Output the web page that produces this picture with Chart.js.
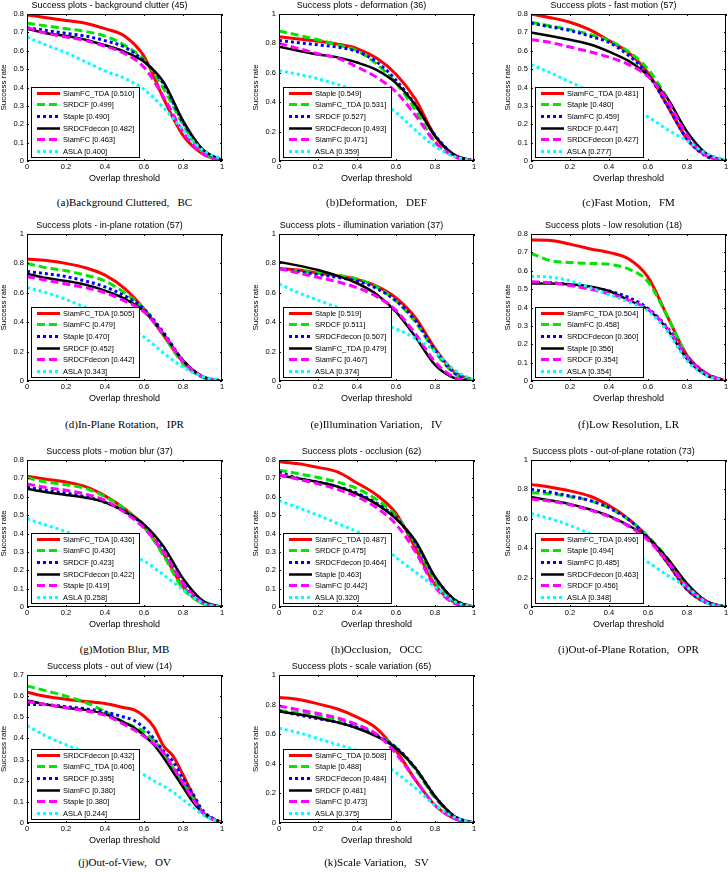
<!DOCTYPE html>
<html>
<head>
<meta charset="utf-8">
<script src="https://cdn.jsdelivr.net/npm/chart.js@4.4.1/dist/chart.umd.min.js"></script>
<style>
  html, body { margin: 0; padding: 0; background: #fff; width: 728px; height: 872px; overflow: hidden; position: relative; }
  canvas { position: absolute; }
  .cap { position: absolute; width: 240px; text-align: center; white-space: pre; font-family: "Liberation Serif", "Times New Roman", serif; font-size: 11px; line-height: 12px; color: #000; }
</style>
</head>
<body>
<script>
// overlap thresholds (x axis)
const thresholds = [0, 0.1, 0.2, 0.3, 0.4, 0.5, 0.6, 0.7, 0.8, 0.9, 1];
const thresholdsOV = [0, 0.1, 0.2, 0.3, 0.4, 0.5, 0.55, 0.6, 0.65, 0.7, 0.75, 0.8, 0.85, 0.9, 1];

// (a) background clutter
const bcNames = ['SiamFC_TDA', 'SRDCF', 'Staple', 'SRDCFdecon', 'SiamFC', 'ASLA'];
const bcScores = ['0.510', '0.499', '0.490', '0.482', '0.463', '0.400'];
const bcValues = [
  [0.795, 0.78, 0.765, 0.75, 0.72, 0.68, 0.57, 0.34, 0.14, 0.04, 0],
  [0.75, 0.735, 0.72, 0.705, 0.68, 0.63, 0.55, 0.395, 0.2, 0.05, 0],
  [0.725, 0.71, 0.695, 0.68, 0.655, 0.62, 0.545, 0.42, 0.21, 0.06, 0.005],
  [0.72, 0.695, 0.68, 0.66, 0.63, 0.595, 0.54, 0.43, 0.22, 0.065, 0.005],
  [0.725, 0.695, 0.675, 0.655, 0.625, 0.585, 0.51, 0.35, 0.16, 0.04, 0],
  [0.675, 0.63, 0.59, 0.54, 0.49, 0.45, 0.39, 0.29, 0.17, 0.06, 0.01]
];

// (b) deformation
const dfNames = ['Staple', 'SiamFC_TDA', 'SRDCF', 'SRDCFdecon', 'SiamFC', 'ASLA'];
const dfScores = ['0.549', '0.531', '0.527', '0.493', '0.471', '0.359'];
const dfValues = [
  [0.845, 0.83, 0.815, 0.795, 0.765, 0.70, 0.59, 0.42, 0.17, 0.04, 0],
  [0.885, 0.855, 0.825, 0.79, 0.75, 0.66, 0.53, 0.345, 0.13, 0.03, 0],
  [0.82, 0.805, 0.79, 0.775, 0.745, 0.675, 0.55, 0.38, 0.175, 0.04, 0],
  [0.777, 0.75, 0.725, 0.705, 0.67, 0.62, 0.53, 0.38, 0.17, 0.04, 0],
  [0.80, 0.765, 0.73, 0.70, 0.64, 0.57, 0.47, 0.31, 0.13, 0.03, 0],
  [0.614, 0.59, 0.56, 0.52, 0.48, 0.42, 0.33, 0.21, 0.10, 0.03, 0]
];

// (c) fast motion
const fmNames = ['SiamFC_TDA', 'Staple', 'SiamFC', 'SRDCF', 'SRDCFdecon', 'ASLA'];
const fmScores = ['0.481', '0.480', '0.459', '0.447', '0.427', '0.277'];
const fmValues = [
  [0.80, 0.78, 0.755, 0.715, 0.655, 0.59, 0.48, 0.30, 0.12, 0.03, 0],
  [0.755, 0.735, 0.715, 0.69, 0.655, 0.595, 0.50, 0.34, 0.15, 0.03, 0],
  [0.75, 0.73, 0.71, 0.68, 0.645, 0.575, 0.47, 0.30, 0.12, 0.025, 0],
  [0.70, 0.68, 0.66, 0.635, 0.595, 0.545, 0.465, 0.34, 0.16, 0.04, 0],
  [0.66, 0.645, 0.62, 0.595, 0.565, 0.525, 0.46, 0.33, 0.14, 0.03, 0],
  [0.525, 0.48, 0.43, 0.38, 0.33, 0.285, 0.24, 0.17, 0.11, 0.04, 0.005]
];

// (d) in-plane rotation
const iprNames = ['SiamFC_TDA', 'SiamFC', 'Staple', 'SRDCF', 'SRDCFdecon', 'ASLA'];
const iprScores = ['0.505', '0.479', '0.470', '0.452', '0.442', '0.343'];
const iprValues = [
  [0.83, 0.82, 0.80, 0.77, 0.72, 0.63, 0.49, 0.31, 0.13, 0.03, 0],
  [0.80, 0.77, 0.75, 0.72, 0.68, 0.60, 0.49, 0.31, 0.12, 0.025, 0],
  [0.745, 0.73, 0.71, 0.68, 0.64, 0.58, 0.49, 0.33, 0.14, 0.03, 0],
  [0.73, 0.70, 0.68, 0.655, 0.615, 0.56, 0.475, 0.32, 0.14, 0.03, 0],
  [0.71, 0.685, 0.66, 0.635, 0.60, 0.545, 0.47, 0.32, 0.135, 0.03, 0],
  [0.636, 0.60, 0.555, 0.50, 0.44, 0.375, 0.30, 0.19, 0.095, 0.03, 0.005]
];

// (e) illumination variation
const ivNames = ['Staple', 'SRDCF', 'SRDCFdecon', 'SiamFC_TDA', 'SiamFC', 'ASLA'];
const ivScores = ['0.519', '0.511', '0.507', '0.479', '0.467', '0.374'];
const ivValues = [
  [0.765, 0.755, 0.735, 0.715, 0.69, 0.645, 0.565, 0.43, 0.22, 0.06, 0.005],
  [0.765, 0.75, 0.735, 0.72, 0.695, 0.64, 0.545, 0.40, 0.20, 0.05, 0],
  [0.765, 0.745, 0.725, 0.705, 0.68, 0.63, 0.545, 0.41, 0.21, 0.055, 0],
  [0.81, 0.785, 0.755, 0.715, 0.665, 0.59, 0.47, 0.30, 0.11, 0.02, 0],
  [0.765, 0.735, 0.705, 0.675, 0.635, 0.575, 0.48, 0.32, 0.13, 0.025, 0],
  [0.66, 0.60, 0.55, 0.50, 0.45, 0.40, 0.355, 0.29, 0.20, 0.075, 0.005]
];

// (f) low resolution
const lrNames = ['SiamFC_TDA', 'SiamFC', 'SRDCFdecon', 'Staple', 'SRDCF', 'ASLA'];
const lrScores = ['0.504', '0.458', '0.360', '0.356', '0.354', '0.354'];
const lrValues = [
  [0.767, 0.765, 0.745, 0.72, 0.70, 0.665, 0.565, 0.35, 0.14, 0.04, 0],
  [0.695, 0.655, 0.645, 0.64, 0.635, 0.61, 0.54, 0.35, 0.14, 0.04, 0],
  [0.537, 0.535, 0.525, 0.51, 0.49, 0.455, 0.395, 0.29, 0.135, 0.04, 0],
  [0.53, 0.53, 0.525, 0.515, 0.49, 0.44, 0.39, 0.28, 0.12, 0.03, 0],
  [0.54, 0.535, 0.52, 0.50, 0.475, 0.44, 0.39, 0.285, 0.13, 0.04, 0],
  [0.57, 0.565, 0.545, 0.51, 0.47, 0.43, 0.38, 0.27, 0.11, 0.03, 0]
];

// (g) motion blur
const mbNames = ['SiamFC_TDA', 'SiamFC', 'SRDCF', 'SRDCFdecon', 'Staple', 'ASLA'];
const mbScores = ['0.436', '0.430', '0.423', '0.422', '0.419', '0.258'];
const mbValues = [
  [0.712, 0.695, 0.68, 0.655, 0.605, 0.535, 0.44, 0.29, 0.11, 0.02, 0],
  [0.703, 0.68, 0.665, 0.645, 0.60, 0.535, 0.435, 0.28, 0.10, 0.02, 0],
  [0.652, 0.635, 0.62, 0.60, 0.57, 0.52, 0.445, 0.32, 0.14, 0.03, 0],
  [0.643, 0.625, 0.61, 0.595, 0.57, 0.52, 0.45, 0.33, 0.155, 0.035, 0],
  [0.67, 0.65, 0.635, 0.615, 0.58, 0.515, 0.43, 0.30, 0.13, 0.025, 0],
  [0.48, 0.445, 0.41, 0.37, 0.33, 0.29, 0.25, 0.175, 0.095, 0.022, 0]
];

// (h) occlusion
const occNames = ['SiamFC_TDA', 'SRDCF', 'SRDCFdecon', 'Staple', 'SiamFC', 'ASLA'];
const occScores = ['0.487', '0.475', '0.464', '0.463', '0.442', '0.320'];
const occValues = [
  [0.79, 0.78, 0.76, 0.735, 0.675, 0.61, 0.51, 0.32, 0.12, 0.025, 0],
  [0.745, 0.725, 0.705, 0.68, 0.645, 0.585, 0.495, 0.345, 0.145, 0.035, 0],
  [0.735, 0.70, 0.68, 0.655, 0.62, 0.565, 0.485, 0.35, 0.16, 0.04, 0],
  [0.715, 0.70, 0.68, 0.655, 0.615, 0.56, 0.48, 0.36, 0.165, 0.04, 0],
  [0.72, 0.695, 0.67, 0.64, 0.60, 0.54, 0.45, 0.30, 0.11, 0.02, 0],
  [0.58, 0.54, 0.50, 0.455, 0.41, 0.36, 0.27, 0.19, 0.11, 0.03, 0]
];

// (i) out-of-plane rotation
const oprNames = ['SiamFC_TDA', 'Staple', 'SiamFC', 'SRDCFdecon', 'SRDCF', 'ASLA'];
const oprScores = ['0.496', '0.494', '0.485', '0.463', '0.456', '0.348'];
const oprValues = [
  [0.834, 0.815, 0.79, 0.755, 0.69, 0.60, 0.475, 0.30, 0.12, 0.03, 0],
  [0.777, 0.77, 0.75, 0.725, 0.675, 0.595, 0.48, 0.33, 0.15, 0.035, 0],
  [0.80, 0.78, 0.755, 0.725, 0.675, 0.595, 0.47, 0.30, 0.12, 0.03, 0],
  [0.748, 0.725, 0.70, 0.665, 0.62, 0.555, 0.47, 0.33, 0.16, 0.04, 0],
  [0.735, 0.72, 0.695, 0.66, 0.615, 0.55, 0.455, 0.31, 0.14, 0.035, 0],
  [0.636, 0.60, 0.555, 0.50, 0.445, 0.38, 0.305, 0.215, 0.135, 0.03, 0]
];

// (j) out of view (uses thresholdsOV)
const ovNames = ['SRDCFdecon', 'SiamFC_TDA', 'SRDCF', 'SiamFC', 'Staple', 'ASLA'];
const ovScores = ['0.432', '0.406', '0.395', '0.380', '0.380', '0.244'];
const ovValues = [
  [0.618, 0.598, 0.585, 0.575, 0.565, 0.545, 0.535, 0.505, 0.455, 0.365, 0.315, 0.228, 0.134, 0.05, 0],
  [0.648, 0.625, 0.60, 0.57, 0.527, 0.475, 0.455, 0.432, 0.39, 0.335, 0.26, 0.19, 0.12, 0.05, 0],
  [0.561, 0.56, 0.55, 0.54, 0.525, 0.50, 0.485, 0.45, 0.40, 0.34, 0.29, 0.21, 0.14, 0.06, 0],
  [0.58, 0.56, 0.545, 0.535, 0.515, 0.475, 0.45, 0.415, 0.37, 0.31, 0.24, 0.17, 0.10, 0.05, 0],
  [0.575, 0.56, 0.545, 0.53, 0.51, 0.465, 0.44, 0.41, 0.375, 0.33, 0.26, 0.19, 0.115, 0.05, 0],
  [0.46, 0.41, 0.37, 0.335, 0.30, 0.265, 0.25, 0.228, 0.20, 0.175, 0.145, 0.11, 0.075, 0.04, 0]
];

// (k) scale variation
const svNames = ['SiamFC_TDA', 'Staple', 'SRDCFdecon', 'SRDCF', 'SiamFC', 'ASLA'];
const svScores = ['0.508', '0.488', '0.484', '0.481', '0.473', '0.375'];
const svValues = [
  [0.848, 0.835, 0.805, 0.77, 0.715, 0.64, 0.49, 0.29, 0.12, 0.03, 0],
  [0.76, 0.745, 0.725, 0.70, 0.66, 0.60, 0.51, 0.36, 0.17, 0.04, 0],
  [0.758, 0.73, 0.705, 0.68, 0.645, 0.59, 0.51, 0.37, 0.18, 0.045, 0],
  [0.753, 0.735, 0.71, 0.68, 0.64, 0.585, 0.505, 0.37, 0.18, 0.045, 0],
  [0.79, 0.765, 0.74, 0.71, 0.665, 0.60, 0.47, 0.29, 0.12, 0.03, 0],
  [0.64, 0.61, 0.57, 0.53, 0.49, 0.43, 0.34, 0.235, 0.12, 0.04, 0]
];

// line style by rank (1st .. 6th)
const lineStyles = [
  { color: '#ff0000', width: 3, dash: [] },
  { color: '#00e600', width: 3, dash: [8, 4] },
  { color: '#0000ff', width: 3, dash: [3, 3] },
  { color: '#000000', width: 2.5, dash: [] },
  { color: '#ff00ff', width: 3, dash: [8, 4] },
  { color: '#00ffff', width: 3, dash: [3, 3] }
];

// page layout
const colLeft = [27, 279, 531];
const rowTop = [14, 234, 460, 675];
const rowHeight = [147, 147, 147, 148];
const capY = [202, 424, 649, 862];
const plotW = 195;

Chart.defaults.font.family = '"Liberation Sans", Arial, sans-serif';
Chart.defaults.color = '#000';

// box, inner ticks and legend inside the axes
const framePlugin = {
  id: 'frame',
  afterDatasetsDraw(chart) {
    const { ctx, chartArea: a } = chart;
    const xs = chart.scales.x, ys = chart.scales.y;
    ctx.save();
    ctx.strokeStyle = '#000';
    ctx.lineWidth = 1;
    ctx.setLineDash([]);
    ctx.beginPath();
    xs.ticks.forEach(t => {
      const px = Math.round(xs.getPixelForValue(t.value)) + 0.5;
      ctx.moveTo(px, a.bottom); ctx.lineTo(px, a.bottom - 2);
      ctx.moveTo(px, a.top); ctx.lineTo(px, a.top + 2);
    });
    ys.ticks.forEach(t => {
      const py = Math.round(ys.getPixelForValue(t.value)) + 0.5;
      ctx.moveTo(a.left, py); ctx.lineTo(a.left + 2, py);
      ctx.moveTo(a.right, py); ctx.lineTo(a.right - 2, py);
    });
    ctx.stroke();
    ctx.strokeRect(a.left + 0.5, a.top + 0.5, a.width - 1, a.height - 1);

    // legend box
    ctx.font = '7.5px "Liberation Sans", Arial, sans-serif';
    const labels = chart.data.datasets.map(d => d.label);
    const tw = Math.max(...labels.map(l => ctx.measureText(l).width));
    const bw = Math.round(32 + tw + 5), bh = 70;
    const bx = Math.round(a.left) + 4, by = Math.round(a.bottom) - 4 - bh;
    ctx.fillStyle = '#fff';
    ctx.fillRect(bx, by, bw, bh);
    ctx.strokeStyle = '#000';
    ctx.strokeRect(bx + 0.5, by + 0.5, bw, bh);
    chart.data.datasets.forEach((d, i) => {
      const cy = Math.round(by + 5.5 + i * 11.7) + 0.5;
      ctx.strokeStyle = d.borderColor;
      ctx.lineWidth = d.borderWidth;
      ctx.lineCap = 'butt';
      ctx.setLineDash(d.borderDash);
      ctx.beginPath();
      ctx.moveTo(bx + 6, cy); ctx.lineTo(bx + 29, cy);
      ctx.stroke();
      ctx.setLineDash([]);
      ctx.fillStyle = '#000';
      ctx.textBaseline = 'middle';
      ctx.textAlign = 'left';
      ctx.fillText(d.label, bx + 32, cy);
    });
    ctx.restore();
  }
};

function tickLabel(v) {
  return String(Math.round(v * 10) / 10);
}

function drawPanel(idx, title, caption, yMax, thr, names, scores, values) {
  const col = idx % 3, row = Math.floor(idx / 3);
  const h = rowHeight[row];
  const canvas = document.createElement('canvas');
  canvas.width = 30 + plotW + 30;
  canvas.height = 14 + h + 24;
  canvas.style.width = canvas.width + 'px';
  canvas.style.height = canvas.height + 'px';
  canvas.style.left = (colLeft[col] - 30) + 'px';
  canvas.style.top = (rowTop[row] - 14) + 'px';
  document.body.appendChild(canvas);

  new Chart(canvas, {
    type: 'line',
    data: {
      datasets: values.map((v, i) => ({
        label: names[i] + ' [' + scores[i] + ']',
        data: v.map((y, k) => ({ x: thr[k], y: y })),
        borderColor: lineStyles[i].color,
        borderWidth: lineStyles[i].width,
        borderDash: lineStyles[i].dash,
        borderCapStyle: 'butt',
        pointRadius: 0,
        fill: false,
        cubicInterpolationMode: 'monotone',
        order: 6 - i
      }))
    },
    options: {
      responsive: false,
      animation: false,
      devicePixelRatio: 1,
      layout: { padding: { left: 0, right: 30, top: 0, bottom: 0 } },
      plugins: {
        legend: { display: false },
        tooltip: { enabled: false },
        title: {
          display: true,
          text: title,
          color: '#000',
          font: { size: 9, weight: 'normal', lineHeight: 1.2 },
          padding: { top: 0, bottom: 3.2 }
        }
      },
      scales: {
        x: {
          type: 'linear', min: 0, max: 1,
          grid: { display: false, drawTicks: false },
          border: { display: false },
          ticks: { stepSize: 0.2, font: { size: 7.5 }, color: '#000', padding: 1, maxRotation: 0, autoSkip: false, callback: tickLabel },
          title: { display: true, text: 'Overlap threshold', color: '#000', font: { size: 9 }, padding: { top: 0, bottom: 0.6 } },
          afterFit(s) { s.height = 24; }
        },
        y: {
          type: 'linear', min: 0, max: yMax,
          grid: { display: false, drawTicks: false },
          border: { display: false },
          ticks: { stepSize: yMax === 1 ? 0.2 : 0.1, font: { size: 7.5 }, color: '#000', padding: 3, autoSkip: false, callback: tickLabel },
          title: { display: true, text: 'Success rate', color: '#000', font: { size: 8 }, padding: { top: 2, bottom: 0 } },
          afterFit(s) { s.width = 30; }
        }
      }
    },
    plugins: [framePlugin]
  });

  const cap = document.createElement('div');
  cap.className = 'cap';
  cap.textContent = caption;
  cap.style.left = (colLeft[col] + plotW / 2 - 120) + 'px';
  cap.style.top = (capY[row] - 6) + 'px';
  document.body.appendChild(cap);
}

drawPanel(0, 'Success plots - background clutter (45)', '(a)Background Cluttered,   BC', 0.8, thresholds, bcNames, bcScores, bcValues);
drawPanel(1, 'Success plots - deformation (36)', '(b)Deformation,   DEF', 1, thresholds, dfNames, dfScores, dfValues);
drawPanel(2, 'Success plots - fast motion (57)', '(c)Fast Motion,   FM', 0.8, thresholds, fmNames, fmScores, fmValues);
drawPanel(3, 'Success plots - in-plane rotation (57)', '(d)In-Plane Rotation,   IPR', 1, thresholds, iprNames, iprScores, iprValues);
drawPanel(4, 'Success plots - illumination variation (37)', '(e)Illumination Variation,   IV', 1, thresholds, ivNames, ivScores, ivValues);
drawPanel(5, 'Success plots - low resolution (18)', '(f)Low Resolution, LR', 0.8, thresholds, lrNames, lrScores, lrValues);
drawPanel(6, 'Success plots - motion blur (37)', '(g)Motion Blur, MB', 0.8, thresholds, mbNames, mbScores, mbValues);
drawPanel(7, 'Success plots - occlusion (62)', '(h)Occlusion,   OCC', 0.8, thresholds, occNames, occScores, occValues);
drawPanel(8, 'Success plots - out-of-plane rotation (73)', '(i)Out-of-Plane Rotation,   OPR', 1, thresholds, oprNames, oprScores, oprValues);
drawPanel(9, 'Success plots - out of view (14)', '(j)Out-of-View,   OV', 0.7, thresholdsOV, ovNames, ovScores, ovValues);
drawPanel(10, 'Success plots - scale variation (65)', '(k)Scale Variation,   SV', 1, thresholds, svNames, svScores, svValues);
</script>
</body>
</html>
